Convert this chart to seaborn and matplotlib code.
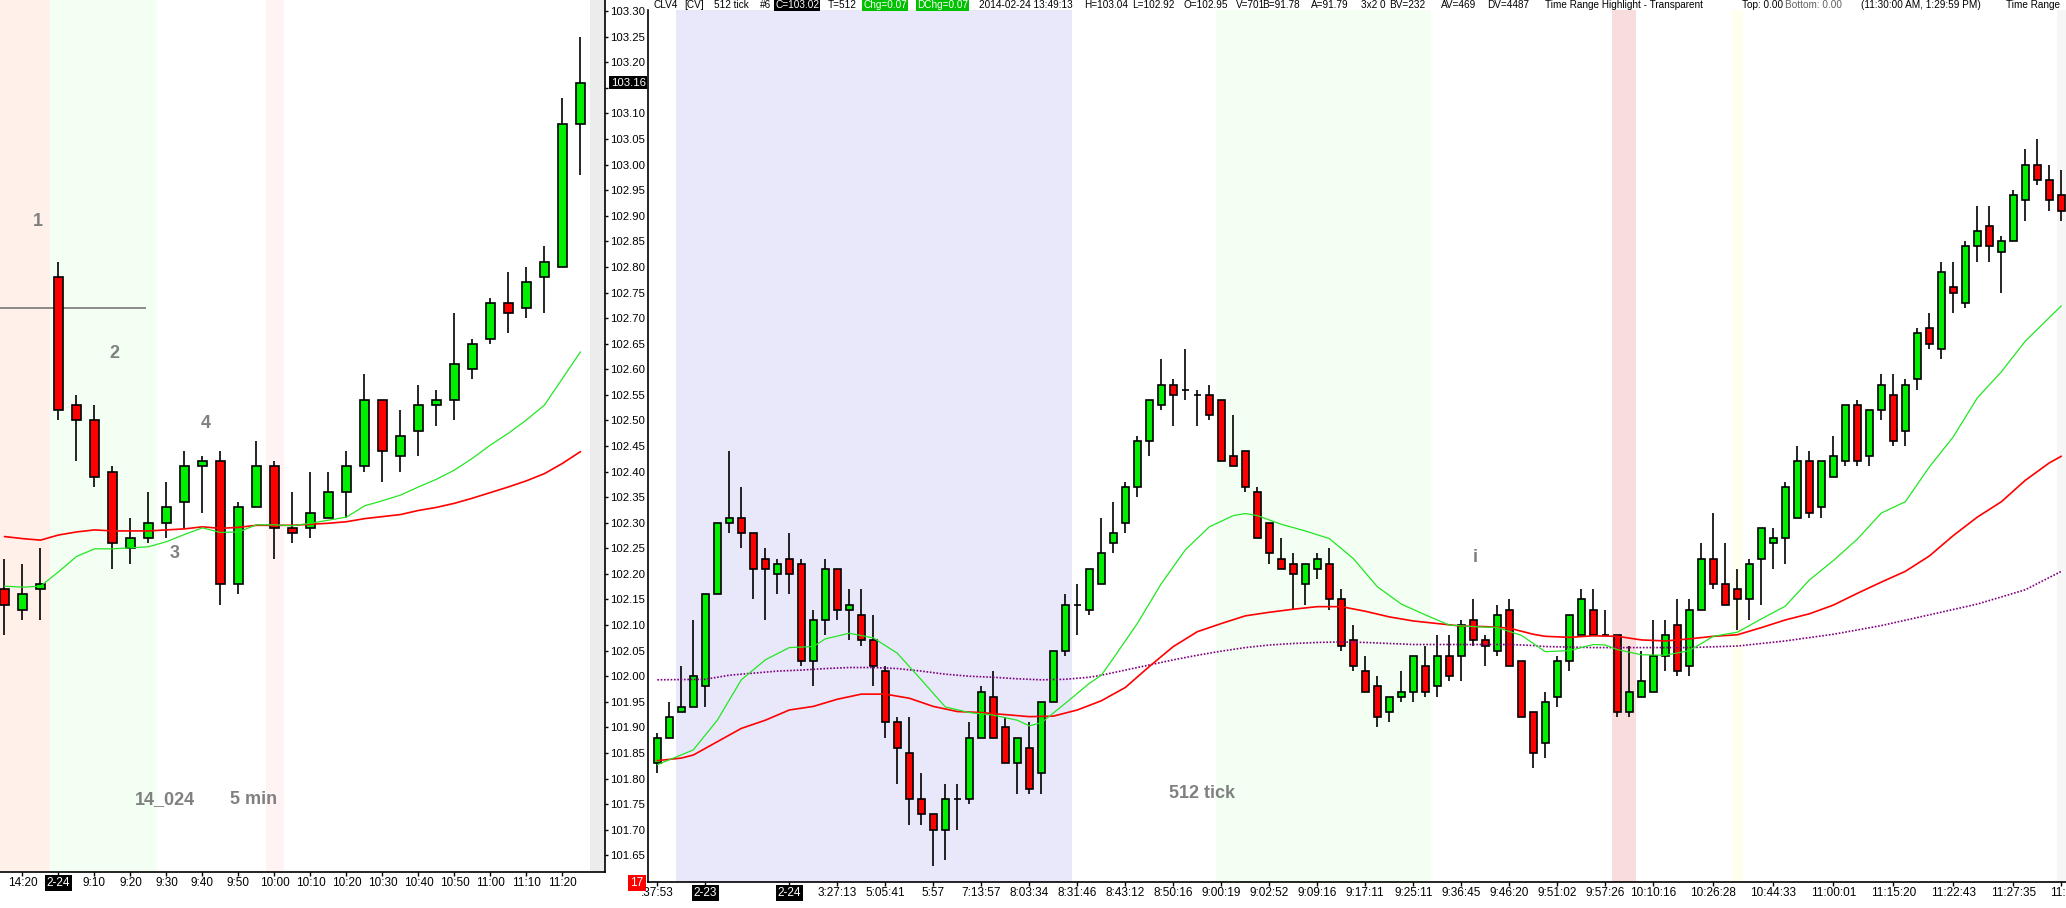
import numpy as np
import matplotlib
matplotlib.use("Agg")
import matplotlib.pyplot as plt
import seaborn as sns

W, H = 2066, 908

# ---------------- 5 min chart (left) ----------------
left_open = [102.17, 102.13, 102.17, 102.78, 102.53, 102.50, 102.40, 102.25, 102.27, 102.30,
             102.34, 102.41, 102.42, 102.18, 102.33, 102.41, 102.29, 102.29, 102.31, 102.36,
             102.41, 102.54, 102.43, 102.48, 102.53, 102.54, 102.60, 102.66, 102.73, 102.72,
             102.78, 102.80, 103.08]
left_high = [102.23, 102.22, 102.25, 102.81, 102.55, 102.53, 102.41, 102.31, 102.36, 102.38,
             102.44, 102.43, 102.44, 102.34, 102.46, 102.42, 102.36, 102.40, 102.40, 102.44,
             102.59, 102.54, 102.52, 102.57, 102.56, 102.71, 102.66, 102.74, 102.79, 102.80,
             102.84, 103.13, 103.25]
left_low = [102.08, 102.11, 102.11, 102.50, 102.42, 102.37, 102.21, 102.22, 102.26, 102.27,
            102.29, 102.32, 102.14, 102.16, 102.33, 102.23, 102.26, 102.27, 102.31, 102.31,
            102.40, 102.38, 102.40, 102.43, 102.49, 102.50, 102.58, 102.65, 102.67, 102.70,
            102.71, 102.80, 102.98]
left_close = [102.14, 102.16, 102.18, 102.52, 102.50, 102.39, 102.26, 102.27, 102.30, 102.33,
              102.41, 102.42, 102.18, 102.33, 102.41, 102.29, 102.28, 102.32, 102.36, 102.41,
              102.54, 102.44, 102.47, 102.53, 102.54, 102.61, 102.65, 102.73, 102.71, 102.77,
              102.81, 103.08, 103.16]
left_fast = [102.176, 102.174, 102.176, 102.204, 102.234, 102.249, 102.249, 102.251, 102.253, 102.263,
             102.277, 102.290, 102.281, 102.282, 102.296, 102.296, 102.294, 102.299, 102.305, 102.311,
             102.333, 102.343, 102.354, 102.370, 102.385, 102.403, 102.426, 102.452, 102.475, 102.501,
             102.530, 102.582, 102.634]
left_slow = [102.273, 102.269, 102.266, 102.276, 102.282, 102.286, 102.284, 102.284, 102.284, 102.286,
             102.288, 102.292, 102.289, 102.291, 102.295, 102.295, 102.295, 102.297, 102.299, 102.302,
             102.308, 102.312, 102.316, 102.324, 102.330, 102.338, 102.348, 102.359, 102.370, 102.382,
             102.396, 102.416, 102.439]
left_tick_pos = [1, 3, 5, 7, 9, 11, 13, 15, 17, 19, 21, 23, 25, 27, 29, 31]
left_tick_labels = ["14:20", "2-24", "9:10", "9:20", "9:30", "9:40", "9:50", "10:00", "10:10",
                    "10:20", "10:30", "10:40", "10:50", "11:00", "11:10", "11:20"]
left_last_price = 103.16
left_hline = 102.72

# ---------------- 512 tick chart (right) ----------------
right_open = [101.83, 101.88, 101.93, 101.94, 101.98, 102.16, 102.30, 102.31, 102.28, 102.23,
              102.20, 102.23, 102.22, 102.03, 102.11, 102.21, 102.13, 102.12, 102.07, 102.01,
              101.91, 101.85, 101.76, 101.73, 101.70, 101.76, 101.76, 101.88, 101.96, 101.90,
              101.83, 101.86, 101.81, 101.95, 102.05, 102.14, 102.13, 102.18, 102.26, 102.30,
              102.37, 102.46, 102.53, 102.57, 102.56, 102.55, 102.55, 102.54, 102.43, 102.44,
              102.36, 102.30, 102.23, 102.22, 102.18, 102.21, 102.22, 102.15, 102.07, 102.01,
              101.98, 101.93, 101.96, 101.97, 102.02, 101.98, 102.04, 102.04, 102.11, 102.07,
              102.05, 102.13, 102.03, 101.93, 101.87, 101.96, 102.03, 102.08, 102.13, 102.08,
              102.08, 101.93, 101.96, 101.97, 102.04, 102.10, 102.02, 102.13, 102.23, 102.18,
              102.17, 102.15, 102.23, 102.26, 102.27, 102.31, 102.42, 102.33, 102.39, 102.42,
              102.53, 102.43, 102.52, 102.55, 102.48, 102.58, 102.68, 102.64, 102.76, 102.73,
              102.84, 102.88, 102.83, 102.85, 102.93, 103.00, 102.97, 102.94]
right_high = [101.89, 101.95, 102.02, 102.11, 102.16, 102.30, 102.44, 102.37, 102.28, 102.25,
              102.23, 102.28, 102.23, 102.13, 102.23, 102.21, 102.17, 102.17, 102.12, 102.02,
              101.92, 101.92, 101.81, 101.73, 101.79, 101.79, 101.91, 101.98, 102.01, 101.92,
              101.88, 101.91, 101.95, 102.05, 102.16, 102.18, 102.21, 102.31, 102.34, 102.38,
              102.47, 102.54, 102.62, 102.58, 102.64, 102.56, 102.57, 102.54, 102.51, 102.44,
              102.37, 102.30, 102.27, 102.24, 102.22, 102.24, 102.25, 102.17, 102.10, 102.04,
              102.00, 101.96, 102.01, 102.04, 102.06, 102.08, 102.08, 102.11, 102.15, 102.08,
              102.14, 102.15, 102.03, 101.93, 101.97, 102.04, 102.12, 102.17, 102.17, 102.13,
              102.08, 102.06, 102.05, 102.11, 102.11, 102.15, 102.15, 102.26, 102.32, 102.26,
              102.21, 102.23, 102.29, 102.29, 102.38, 102.45, 102.44, 102.42, 102.47, 102.53,
              102.54, 102.52, 102.59, 102.59, 102.58, 102.68, 102.71, 102.81, 102.81, 102.85,
              102.92, 102.92, 102.86, 102.95, 103.03, 103.05, 103.00, 102.99]
right_low = [101.81, 101.88, 101.93, 101.94, 101.94, 102.16, 102.28, 102.25, 102.15, 102.11,
             102.16, 102.16, 102.02, 101.98, 102.08, 102.11, 102.07, 102.06, 101.98, 101.88,
             101.79, 101.71, 101.71, 101.63, 101.64, 101.70, 101.75, 101.88, 101.88, 101.83,
             101.77, 101.77, 101.77, 101.95, 102.04, 102.08, 102.12, 102.18, 102.24, 102.28,
             102.35, 102.43, 102.52, 102.49, 102.54, 102.49, 102.50, 102.42, 102.41, 102.36,
             102.27, 102.22, 102.21, 102.13, 102.14, 102.19, 102.13, 102.05, 102.01, 101.97,
             101.90, 101.91, 101.95, 101.95, 101.96, 101.96, 101.99, 101.99, 102.06, 102.02,
             102.04, 102.02, 101.92, 101.82, 101.84, 101.94, 102.01, 102.08, 102.08, 102.08,
             101.92, 101.92, 101.96, 101.97, 102.01, 102.00, 102.00, 102.13, 102.17, 102.14,
             102.09, 102.11, 102.14, 102.21, 102.22, 102.31, 102.31, 102.31, 102.39, 102.41,
             102.41, 102.41, 102.50, 102.45, 102.45, 102.56, 102.64, 102.62, 102.71, 102.72,
             102.81, 102.81, 102.75, 102.85, 102.89, 102.96, 102.91, 102.89]
right_close = [101.88, 101.92, 101.94, 102.00, 102.16, 102.30, 102.31, 102.28, 102.21, 102.21,
               102.22, 102.20, 102.03, 102.11, 102.21, 102.13, 102.14, 102.07, 102.02, 101.91,
               101.86, 101.76, 101.73, 101.70, 101.76, 101.76, 101.88, 101.97, 101.88, 101.83,
               101.88, 101.78, 101.95, 102.05, 102.14, 102.14, 102.21, 102.24, 102.28, 102.37,
               102.46, 102.54, 102.57, 102.55, 102.56, 102.55, 102.51, 102.42, 102.41, 102.37,
               102.27, 102.24, 102.21, 102.20, 102.22, 102.23, 102.15, 102.06, 102.02, 101.97,
               101.92, 101.96, 101.97, 102.04, 101.97, 102.04, 102.00, 102.10, 102.07, 102.06,
               102.12, 102.02, 101.92, 101.85, 101.95, 102.03, 102.12, 102.15, 102.08, 102.08,
               101.93, 101.97, 101.99, 102.04, 102.08, 102.01, 102.13, 102.23, 102.18, 102.14,
               102.15, 102.22, 102.29, 102.27, 102.37, 102.42, 102.32, 102.42, 102.43, 102.53,
               102.42, 102.52, 102.57, 102.46, 102.57, 102.67, 102.65, 102.79, 102.75, 102.84,
               102.87, 102.84, 102.85, 102.94, 103.00, 102.97, 102.93, 102.91]

right_fast_idx = [0, 3, 5, 7, 9, 11, 13, 14, 16, 18, 20, 22, 24, 26, 28, 30, 31, 32, 34, 36,
                  37, 38, 40, 42, 44, 46, 48, 49, 50, 52, 54, 56, 58, 60, 62, 64, 66, 68, 70, 72,
                  74, 76, 78, 79, 80, 82, 84, 86, 88, 90, 92, 94, 96, 98, 100, 102, 104, 106, 108, 110,
                  112, 114, 116, 117]
right_fast = [101.827, 101.856, 101.914, 101.993, 102.032, 102.056, 102.058, 102.073, 102.084, 102.075,
              102.045, 101.993, 101.940, 101.929, 101.924, 101.914, 101.903, 101.909, 101.947, 101.986,
              102.002, 102.035, 102.103, 102.181, 102.247, 102.292, 102.314, 102.318, 102.314, 102.297,
              102.284, 102.269, 102.230, 102.175, 102.141, 102.120, 102.100, 102.097, 102.095, 102.080,
              102.048, 102.050, 102.062, 102.061, 102.052, 102.042, 102.041, 102.050, 102.078, 102.086,
              102.112, 102.137, 102.188, 102.226, 102.268, 102.319, 102.341, 102.409, 102.468, 102.544,
              102.595, 102.655, 102.701, 102.724]
right_slow_idx = [0, 2, 3, 5, 7, 9, 11, 13, 15, 17, 19, 21, 23, 25, 27, 29, 31, 33, 35, 37,
                  39, 41, 43, 45, 47, 49, 51, 53, 55, 57, 59, 61, 63, 65, 67, 69, 71, 73, 74, 76,
                  78, 80, 82, 84, 86, 88, 90, 92, 94, 96, 98, 100, 102, 104, 106, 108, 110, 112, 114, 116,
                  117]
right_slow = [101.835, 101.840, 101.846, 101.872, 101.898, 101.914, 101.934, 101.941, 101.955, 101.965,
              101.965, 101.957, 101.941, 101.931, 101.929, 101.925, 101.921, 101.922, 101.934, 101.952,
              101.978, 102.019, 102.058, 102.087, 102.103, 102.118, 102.125, 102.131, 102.136, 102.136,
              102.127, 102.116, 102.108, 102.103, 102.098, 102.097, 102.094, 102.082, 102.078, 102.076,
              102.079, 102.078, 102.071, 102.069, 102.073, 102.078, 102.081, 102.095, 102.110, 102.122,
              102.139, 102.162, 102.184, 102.205, 102.235, 102.275, 102.311, 102.341, 102.383, 102.417,
              102.430]
right_long_idx = [0, 4, 6, 8, 10, 12, 14, 16, 18, 20, 22, 24, 26, 28, 30, 32, 34, 36, 37, 39,
                  41, 43, 45, 47, 49, 51, 53, 55, 57, 59, 61, 63, 65, 67, 69, 71, 73, 74, 78, 82,
                  86, 90, 94, 98, 102, 106, 110, 114, 117]
right_long = [101.993, 101.994, 102.002, 102.006, 102.010, 102.012, 102.015, 102.017, 102.017, 102.015,
              102.010, 102.004, 102.000, 101.998, 101.995, 101.993, 101.994, 101.998, 102.002, 102.012,
              102.022, 102.032, 102.041, 102.049, 102.056, 102.061, 102.064, 102.066, 102.067, 102.066,
              102.064, 102.062, 102.062, 102.062, 102.062, 102.062, 102.060, 102.058, 102.056, 102.056,
              102.056, 102.059, 102.069, 102.082, 102.099, 102.120, 102.141, 102.169, 102.205]
right_tick_pos = [0, 4, 11, 15, 19, 23, 27, 31, 35, 39, 43, 47, 51, 55, 59, 63, 67, 71, 75, 79,
                  83, 88, 93, 98, 103, 108, 113, 117]
right_tick_labels = [":37:53", "2-23", "2-24", "3:27:13", "5:05:41", "5:57", "7:13:57", "8:03:34",
                     "8:31:46", "8:43:12", "8:50:16", "9:00:19", "9:02:52", "9:09:16", "9:17:11",
                     "9:25:11", "9:36:45", "9:46:20", "9:51:02", "9:57:26", "10:10:16", "10:26:28",
                     "10:44:33", "11:00:01", "11:15:20", "11:22:43", "11:27:35", "11:3"]

# header line pieces: x pixel, text, background, text colour
header_parts = [
    (654, "CLV4", None, "black"),
    (684.5, "[CV]", None, "black"),
    (713.5, "512 tick", None, "black"),
    (760, "#6", None, "black"),
    (775, "C=103.02", "black", "white"),
    (828, "T=512", None, "black"),
    (863, "Chg=0.07", "#00c000", "white"),
    (917, "DChg=0.07", "#00c000", "white"),
    (978.6, "2014-02-24 13:49:13", None, "black"),
    (1084.6, "H=103.04", None, "black"),
    (1132, "L=102.92", None, "black"),
    (1184, "O=102.95", None, "black"),
    (1236, "V=701", None, "black"),
    (1262.5, "B=91.78", None, "black"),
    (1311, "A=91.79", None, "black"),
    (1361, "3x2 0", None, "black"),
    (1389, "BV=232", None, "black"),
    (1441, "AV=469", None, "black"),
    (1487.5, "DV=4487", None, "black"),
    (1545, "Time Range Highlight - Transparent", None, "black"),
    (1742, "Top: 0.00", None, "black"),
    (1785, "Bottom: 0.00", None, "#606060"),
    (1861, "(11:30:00 AM, 1:29:59 PM)", None, "black"),
    (2005.5, "Time Range", None, "black"),
]

CANDLE_UP = "#00ee00"
CANDLE_DN = "#ff0000"

sns.set_theme(style="white")
plt.rcParams['font.family'] = ['Liberation Sans', 'DejaVu Sans']
plt.rcParams['axes.linewidth'] = 1.2


def fx(px):
    return px / W


def fy(py):
    return 1 - py / H


def draw_candles(ax, opens, highs, lows, closes, width):
    o = np.array(opens)
    c = np.array(closes)
    x = np.arange(len(o))
    colors = np.where(c > o, CANDLE_UP, np.where(c < o, CANDLE_DN, "black"))
    ax.vlines(x, lows, highs, color="black", lw=1.2, zorder=3)
    ax.bar(x, np.abs(c - o), width, bottom=np.minimum(o, c), color=colors,
           edgecolor="black", linewidth=1.2, zorder=4)


fig = plt.figure(figsize=(W / 100, H / 100), dpi=100)
fig.patch.set_facecolor("white")

# left panel
ax_l = fig.add_axes([0, fy(872), fx(605.3), 872 / H])
ax_l.set_facecolor("white")
ax_l.axvspan(-0.25, 2.53, color="#fff0e9", lw=0, zorder=0)
ax_l.axvspan(2.53, 8.5, color="#f3fff3", lw=0, zorder=0)
ax_l.axvspan(14.55, 15.53, color="#fff3f3", lw=0, zorder=0)
ax_l.axvspan(32.53, 33.5, color="#ececec", lw=0, zorder=0)
ax_l.hlines(left_hline, -0.25, 7.85, color="#808080", lw=1.3, zorder=2)
draw_candles(ax_l, left_open, left_high, left_low, left_close, 0.55)
sns.lineplot(x=np.arange(len(left_slow)), y=left_slow, ax=ax_l, color="#ff0000", lw=1.2, zorder=5)
sns.lineplot(x=np.arange(len(left_fast)), y=left_fast, ax=ax_l, color="#22e622", lw=0.9, zorder=5)
ax_l.set_xlim(-0.25, 33.38)
ax_l.set_ylim(101.6173, 103.3218)
ax_l.yaxis.tick_right()
yt = np.round(np.arange(101.65, 103.3001, 0.05), 2)
ax_l.set_yticks(yt)
# the 103.15 label sits under the last-price box
ax_l.set_yticklabels(["" if abs(v - 103.15) < 1e-6 else f"{v:.2f}" for v in yt])
ax_l.set_xticks(left_tick_pos)
ax_l.set_xticklabels(left_tick_labels)
ax_l.tick_params(axis="y", right=True, direction="out", length=2.5, width=1, pad=1.2,
                 labelsize=8.2, colors="black")
ax_l.tick_params(axis="x", bottom=True, direction="out", length=3, width=1, pad=0.5,
                 labelsize=8.5, colors="black")
for s in ["top", "left"]:
    ax_l.spines[s].set_visible(False)
for s in ["right", "bottom"]:
    ax_l.spines[s].set_color("black")
ax_l.annotate(f"{left_last_price:.2f}", xy=(1.0, left_last_price),
              xycoords=ax_l.get_yaxis_transform(), xytext=(4, 0), textcoords="offset points",
              ha="left", va="center", fontsize=8.2, color="white", zorder=10,
              annotation_clip=False,
              bbox=dict(facecolor="black", edgecolor="none", pad=1.0))

# right panel
ax_r = fig.add_axes([fx(648.3), fy(882), fx(2066 - 648.3), (882 - 9.5) / H])
ax_r.set_facecolor("none")
ax_r.axvspan(1.55, 34.55, color="#e8e8fa", lw=0, zorder=0)
ax_r.axvspan(46.55, 64.5, color="#f3fff3", lw=0, zorder=0)
ax_r.axvspan(79.55, 81.55, color="#f9dcdc", lw=0, zorder=0)
ax_r.axvspan(89.55, 90.5, color="#fffff0", lw=0, zorder=0)
ax_r.axvspan(116.6, 118, color="#f6f6f6", lw=0, zorder=0)
draw_candles(ax_r, right_open, right_high, right_low, right_close, 0.55)
sns.lineplot(x=right_long_idx, y=right_long, ax=ax_r, color="#800080", lw=1.2,
             linestyle=(0, (1, 1)), zorder=5)
sns.lineplot(x=right_slow_idx, y=right_slow, ax=ax_r, color="#ff0000", lw=1.2, zorder=5)
sns.lineplot(x=right_fast_idx, y=right_fast, ax=ax_r, color="#22e622", lw=0.9, zorder=5)
ax_r.set_xlim(-0.75, 117.39)
ax_r.set_ylim(101.5978, 103.3032)
ax_r.set_yticks([])
ax_r.set_xticks(right_tick_pos)
ax_r.set_xticklabels(right_tick_labels)
ax_r.tick_params(axis="x", bottom=True, direction="out", length=3, width=1, pad=0.5,
                 labelsize=8.5, colors="black")
for s in ["top", "right"]:
    ax_r.spines[s].set_visible(False)
for s in ["left", "bottom"]:
    ax_r.spines[s].set_color("black")

for ax in (ax_l, ax_r):
    ax.set_xlabel("")
    ax.set_ylabel("")
    for lbl in ax.get_xticklabels():
        if "-" in lbl.get_text():
            lbl.set_color("white")
            lbl.set_bbox(dict(facecolor="black", edgecolor="none", pad=1.2))

# grey annotations
note_kw = dict(ha="center", va="center", color="#808080", fontweight="bold", fontsize=13)
fig.text(fx(38), fy(222), "1", **note_kw)
fig.text(fx(114), fy(353), "2", **note_kw)
fig.text(fx(206), fy(423), "4", **note_kw)
fig.text(fx(175), fy(553), "3", **note_kw)
fig.text(fx(165), fy(800), "14_024", **note_kw)
fig.text(fx(254), fy(800), "5 min", **note_kw)
fig.text(fx(1202), fy(793), "512 tick", **note_kw)
fig.text(fx(1475), fy(557), "i", **note_kw)

# bar counter box
fig.text(fx(637), fy(883), "17", ha="center", va="center", fontsize=8.5, color="white",
         bbox=dict(facecolor="#ff0000", edgecolor="none", pad=1.5))

# header line
for xpos, txt, bg, col in header_parts:
    kw = dict(ha="left", va="baseline", fontsize=7.2, color=col)
    if bg is not None:
        kw["bbox"] = dict(facecolor=bg, edgecolor="none", pad=0.8)
    fig.text(fx(xpos), fy(8), txt, **kw)

fig.savefig("out.png", dpi=100, facecolor="white")
